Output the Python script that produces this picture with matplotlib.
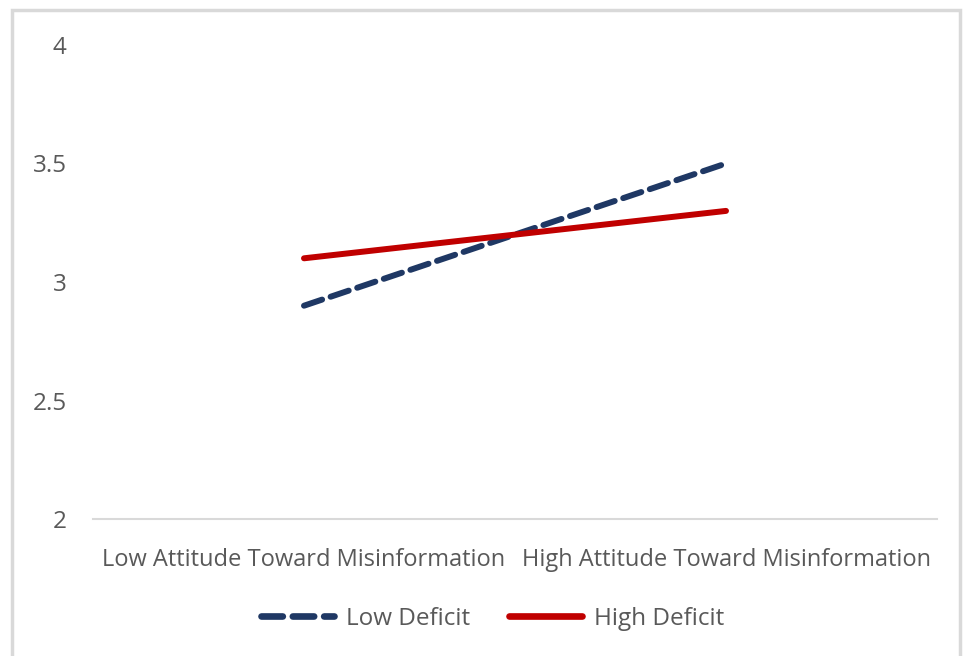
import matplotlib.pyplot as plt
from matplotlib.lines import Line2D
from matplotlib.patches import Rectangle

# Interaction plot: attitude toward misinformation x deficit level
categories = ['Low Attitude Toward Misinformation', 'High Attitude Toward Misinformation']
low_deficit = [2.9, 3.5]
high_deficit = [3.1, 3.3]
y_ticks = [2, 2.5, 3, 3.5, 4]

navy = '#1f3864'
red = '#c00000'
text_gray = '#595959'
font = 'Open Sans'

fig = plt.figure(figsize=(9.71, 6.56), dpi=100)
ax = fig.add_axes([93 / 971, 1 - 519 / 656, 844 / 971, 474 / 656])

x = [0, 1]
dash = (0, (3.2, 1.5))
ax.plot(x, low_deficit, color=navy, linewidth=4.3, linestyle=dash,
        dash_capstyle='round', solid_capstyle='round', label='Low Deficit')
ax.plot(x, high_deficit, color=red, linewidth=4.3, solid_capstyle='round',
        label='High Deficit')

ax.set_xlim(-0.5, 1.5)
ax.set_ylim(2, 4)
ax.set_yticks(y_ticks)
ax.set_yticklabels([f'{v:g}' for v in y_ticks], fontsize=17.5, color=text_gray, family=font)
ax.set_xticks(x)
ax.set_xticklabels(categories, fontsize=17, color=text_gray, family=font)
ax.tick_params(axis='y', length=0, pad=19)
ax.tick_params(axis='x', length=0, pad=21)

for side in ['top', 'right', 'left']:
    ax.spines[side].set_visible(False)
ax.spines['bottom'].set_color('#d9d9d9')
ax.spines['bottom'].set_linewidth(1.5)

handles = [
    Line2D([0], [0], color=navy, linewidth=4.8, linestyle=dash, dash_capstyle='round'),
    Line2D([0], [0], color=red, linewidth=4.8, solid_capstyle='round'),
]
leg = fig.legend(handles, ['Low Deficit', 'High Deficit'], loc='center',
                 bbox_to_anchor=(493 / 971, 1 - 619 / 656), ncol=2, frameon=False,
                 handlelength=3.0, handletextpad=0.5, columnspacing=1.6,
                 prop={'family': font, 'size': 17.5})
for t in leg.get_texts():
    t.set_color(text_gray)

# thin gray frame around the chart area
fig.patches.append(Rectangle((12 / 971, -0.01), 948 / 971, 1 - 10 / 656 + 0.01,
                             transform=fig.transFigure, fill=False,
                             edgecolor='#d9d9d9', linewidth=2.5))

fig.savefig('out.png', dpi=100)
